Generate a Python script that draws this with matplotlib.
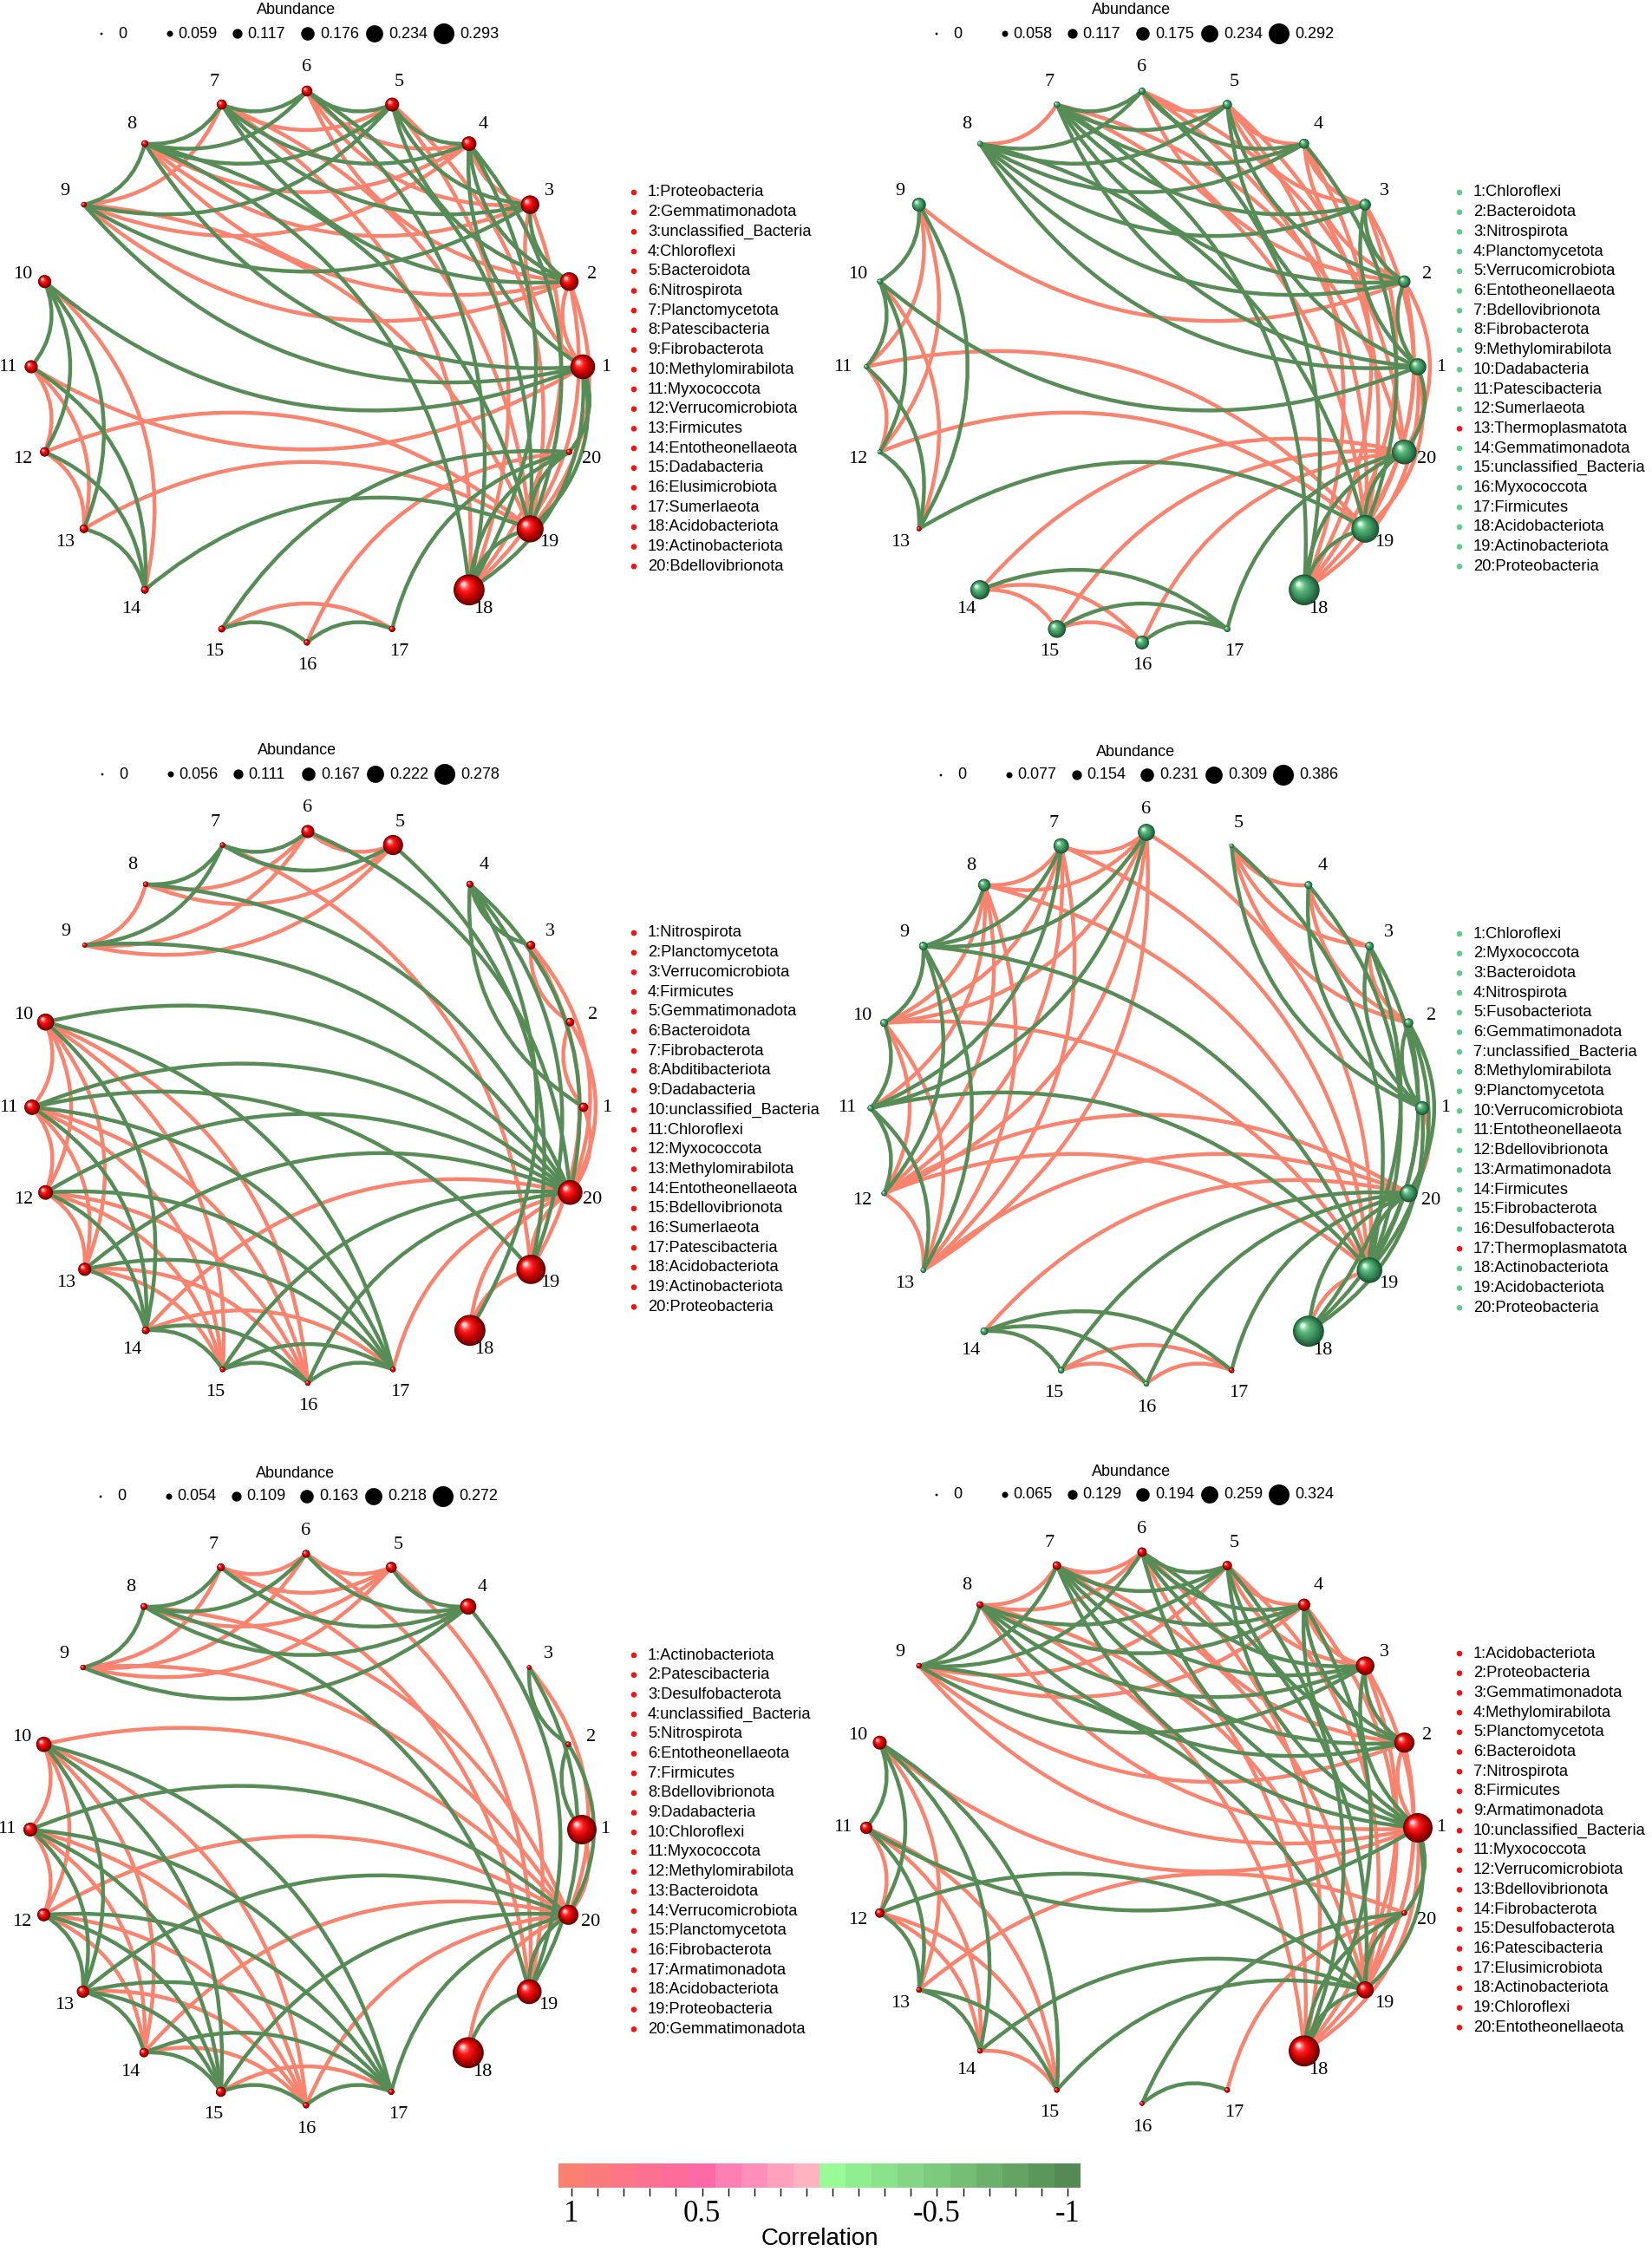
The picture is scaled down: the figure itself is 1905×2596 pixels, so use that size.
import numpy as np
import matplotlib
matplotlib.use("Agg")
import matplotlib.pyplot as plt
from matplotlib.patches import Circle, Rectangle, PathPatch
from matplotlib.path import Path
from matplotlib.colors import to_rgb

# ---------------------------------------------------------------- data
NAMES1 = ["Proteobacteria", "Gemmatimonadota", "unclassified_Bacteria", "Chloroflexi", "Bacteroidota",
          "Nitrospirota", "Planctomycetota", "Patescibacteria", "Fibrobacterota", "Methylomirabilota",
          "Myxococcota", "Verrucomicrobiota", "Firmicutes", "Entotheonellaeota", "Dadabacteria",
          "Elusimicrobiota", "Sumerlaeota", "Acidobacteriota", "Actinobacteriota", "Bdellovibrionota"]
NAMES2 = ["Chloroflexi", "Bacteroidota", "Nitrospirota", "Planctomycetota", "Verrucomicrobiota",
          "Entotheonellaeota", "Bdellovibrionota", "Fibrobacterota", "Methylomirabilota", "Dadabacteria",
          "Patescibacteria", "Sumerlaeota", "Thermoplasmatota", "Gemmatimonadota", "unclassified_Bacteria",
          "Myxococcota", "Firmicutes", "Acidobacteriota", "Actinobacteriota", "Proteobacteria"]
NAMES3 = ["Nitrospirota", "Planctomycetota", "Verrucomicrobiota", "Firmicutes", "Gemmatimonadota",
          "Bacteroidota", "Fibrobacterota", "Abditibacteriota", "Dadabacteria", "unclassified_Bacteria",
          "Chloroflexi", "Myxococcota", "Methylomirabilota", "Entotheonellaeota", "Bdellovibrionota",
          "Sumerlaeota", "Patescibacteria", "Acidobacteriota", "Actinobacteriota", "Proteobacteria"]
NAMES4 = ["Chloroflexi", "Myxococcota", "Bacteroidota", "Nitrospirota", "Fusobacteriota",
          "Gemmatimonadota", "unclassified_Bacteria", "Methylomirabilota", "Planctomycetota", "Verrucomicrobiota",
          "Entotheonellaeota", "Bdellovibrionota", "Armatimonadota", "Firmicutes", "Fibrobacterota",
          "Desulfobacterota", "Thermoplasmatota", "Actinobacteriota", "Acidobacteriota", "Proteobacteria"]
NAMES5 = ["Actinobacteriota", "Patescibacteria", "Desulfobacterota", "unclassified_Bacteria", "Nitrospirota",
          "Entotheonellaeota", "Firmicutes", "Bdellovibrionota", "Dadabacteria", "Chloroflexi",
          "Myxococcota", "Methylomirabilota", "Bacteroidota", "Verrucomicrobiota", "Planctomycetota",
          "Fibrobacterota", "Armatimonadota", "Acidobacteriota", "Proteobacteria", "Gemmatimonadota"]
NAMES6 = ["Acidobacteriota", "Proteobacteria", "Gemmatimonadota", "Methylomirabilota", "Planctomycetota",
          "Bacteroidota", "Nitrospirota", "Firmicutes", "Armatimonadota", "unclassified_Bacteria",
          "Myxococcota", "Verrucomicrobiota", "Bdellovibrionota", "Fibrobacterota", "Desulfobacterota",
          "Patescibacteria", "Elusimicrobiota", "Actinobacteriota", "Chloroflexi", "Entotheonellaeota"]

ABUND1 = [0.223, 0.155, 0.155, 0.113, 0.104, 0.071, 0.062, 0.028, 0.012, 0.096,
          0.096, 0.054, 0.046, 0.037, 0.028, 0.020, 0.020, 0.291, 0.248, 0.020]
ABUND2 = [0.138, 0.087, 0.079, 0.062, 0.054, 0.028, 0.020, 0.012, 0.104, 0.012,
          0.004, 0.004, 0.004, 0.163, 0.146, 0.104, 0.020, 0.288, 0.254, 0.222]
ABUND3 = [0.051, 0.043, 0.043, 0.027, 0.163, 0.091, 0.011, 0.011, 0.004, 0.131,
          0.115, 0.107, 0.091, 0.035, 0.011, 0.011, 0.011, 0.276, 0.259, 0.211]
ABUND4 = [0.138, 0.071, 0.060, 0.049, 0.004, 0.183, 0.160, 0.116, 0.060, 0.049,
          0.027, 0.016, 0.016, 0.049, 0.027, 0.016, 0.016, 0.384, 0.305, 0.193]
ABUND5 = [0.254, 0.011, 0.004, 0.121, 0.066, 0.035, 0.035, 0.026, 0.011, 0.112,
          0.097, 0.089, 0.081, 0.050, 0.058, 0.019, 0.019, 0.270, 0.207, 0.160]
ABUND6 = [0.303, 0.190, 0.171, 0.096, 0.061, 0.061, 0.050, 0.031, 0.013, 0.115,
          0.096, 0.061, 0.013, 0.013, 0.013, 0.004, 0.013, 0.322, 0.153, 0.013]

# node group colour: "r" = red, "g" = green
GROUP1 = ["r"] * 20
GROUP2 = ["g"] * 12 + ["r"] + ["g"] * 7
GROUP3 = ["r"] * 20
GROUP4 = ["g"] * 16 + ["r"] + ["g"] * 3
GROUP5 = ["r"] * 20
GROUP6 = ["r"] * 20

SIZE_TICKS1 = ["0", "0.059", "0.117", "0.176", "0.234", "0.293"]
SIZE_TICKS2 = ["0", "0.058", "0.117", "0.175", "0.234", "0.292"]
SIZE_TICKS3 = ["0", "0.056", "0.111", "0.167", "0.222", "0.278"]
SIZE_TICKS4 = ["0", "0.077", "0.154", "0.231", "0.309", "0.386"]
SIZE_TICKS5 = ["0", "0.054", "0.109", "0.163", "0.218", "0.272"]
SIZE_TICKS6 = ["0", "0.065", "0.129", "0.194", "0.259", "0.324"]

# positive (salmon) and negative (green) correlation edges
POS1 = [(1, 2), (3, 4), (11, 12), (12, 13), (15, 17), (11, 13), (5, 7), (4, 6), (1, 3), (7, 9),
        (10, 14), (1, 11), (12, 19), (13, 19), (16, 20), (4, 9), (2, 9), (9, 19), (4, 8), (3, 8),
        (2, 8), (7, 18), (7, 19), (3, 6), (2, 6), (5, 18), (5, 19), (3, 18), (2, 18), (2, 19)]
NEG1 = [(2, 3), (4, 5), (5, 6), (6, 7), (7, 8), (8, 9), (10, 11), (13, 14), (15, 16), (16, 17),
        (18, 19), (19, 20), (1, 20), (10, 12), (12, 14), (6, 8), (3, 5), (2, 4), (18, 20), (1, 19),
        (10, 13), (11, 14), (1, 10), (14, 19), (15, 20), (17, 20), (5, 9), (3, 9), (1, 9), (1, 8),
        (8, 19), (8, 18), (5, 8), (4, 7), (3, 7), (2, 7), (6, 18), (6, 19), (2, 5), (4, 18),
        (4, 19), (1, 4), (1, 18)]

POS2 = [(3, 4), (4, 5), (5, 6), (7, 8), (11, 12), (14, 15), (15, 16), (14, 16), (9, 11), (9, 12),
        (10, 13), (3, 5), (2, 4), (1, 19), (7, 19), (7, 20), (6, 19), (2, 6), (6, 20), (5, 19),
        (5, 18), (4, 18), (3, 18), (2, 18), (1, 18), (2, 9), (11, 19), (12, 19), (14, 20), (15, 20),
        (16, 20), (2, 20), (3, 19)]
NEG2 = [(1, 2), (2, 3), (6, 7), (9, 10), (10, 11), (12, 13), (16, 17), (18, 19), (19, 20), (1, 20),
        (15, 17), (14, 17), (10, 12), (11, 13), (9, 13), (5, 7), (6, 8), (1, 3), (4, 8), (3, 8),
        (2, 8), (1, 8), (5, 8), (8, 19), (4, 7), (3, 7), (2, 7), (1, 7), (7, 18), (4, 6),
        (6, 18), (2, 5), (1, 5), (4, 19), (1, 10), (13, 19), (17, 20), (18, 20)]

POS3 = [(5, 6), (8, 9), (10, 11), (11, 12), (12, 13), (1, 2), (2, 3), (19, 20), (18, 19), (18, 20),
        (1, 20), (6, 8), (5, 8), (5, 9), (6, 9), (7, 19), (3, 19), (3, 20), (2, 20), (10, 12),
        (10, 13), (10, 15), (10, 16), (11, 13), (11, 15), (11, 16), (12, 15), (12, 16), (13, 15),
        (13, 16), (14, 20), (17, 20), (14, 17)]
NEG3 = [(6, 7), (7, 8), (13, 14), (14, 15), (15, 16), (16, 17), (3, 4), (5, 7), (7, 9), (5, 19),
        (6, 20), (8, 20), (9, 20), (4, 18), (4, 19), (4, 20), (1, 4), (10, 20), (10, 14), (10, 17),
        (11, 20), (11, 19), (11, 14), (11, 17), (12, 20), (12, 14), (12, 17), (13, 20), (13, 17),
        (14, 16), (15, 17), (15, 20), (16, 20)]

POS4 = [(6, 7), (7, 8), (12, 13), (15, 16), (16, 17), (4, 5), (3, 4), (2, 3), (1, 20), (18, 19),
        (6, 8), (7, 10), (8, 10), (6, 10), (8, 11), (8, 12), (8, 13), (7, 12), (7, 13), (6, 12),
        (6, 13), (10, 12), (10, 13), (10, 19), (8, 19), (7, 19), (6, 19), (12, 19), (13, 20),
        (2, 5), (3, 5), (2, 4), (14, 20), (15, 17), (12, 20)]
NEG4 = [(8, 9), (9, 10), (10, 11), (11, 12), (14, 15), (1, 2), (19, 20), (18, 20), (7, 9), (6, 9),
        (7, 11), (6, 11), (9, 12), (9, 13), (11, 13), (9, 19), (11, 19), (5, 19), (1, 5), (1, 4),
        (1, 3), (3, 19), (2, 19), (14, 16), (14, 17), (15, 20), (16, 20), (17, 20), (1, 18),
        (2, 18), (3, 18), (4, 19), (2, 20)]

POS5 = [(5, 6), (6, 7), (10, 11), (11, 12), (1, 20), (5, 7), (7, 9), (5, 8), (5, 9), (6, 9),
        (8, 20), (7, 19), (6, 19), (5, 19), (3, 20), (9, 20), (10, 20), (10, 12), (10, 14), (10, 16),
        (11, 14), (11, 16), (12, 20), (12, 14), (12, 16), (13, 16), (14, 16), (14, 20), (16, 20),
        (15, 17), (18, 20)]
NEG5 = [(7, 8), (8, 9), (4, 5), (12, 13), (13, 14), (14, 15), (15, 16), (16, 17), (2, 3), (1, 2),
        (19, 20), (18, 19), (4, 6), (6, 8), (4, 7), (4, 8), (4, 9), (4, 19), (3, 19), (2, 20),
        (8, 19), (10, 13), (10, 15), (10, 17), (11, 20), (11, 13), (11, 15), (11, 17), (12, 15),
        (12, 17), (13, 20), (13, 15), (13, 17), (14, 17), (15, 20), (17, 20)]

POS6 = [(1, 2), (3, 4), (4, 5), (6, 7), (7, 8), (11, 12), (14, 15), (5, 9), (4, 9), (2, 9),
        (1, 9), (6, 8), (1, 8), (8, 19), (8, 18), (7, 18), (7, 19), (2, 6), (6, 18), (3, 5),
        (5, 19), (4, 19), (3, 18), (3, 19), (2, 18), (1, 18), (1, 10), (10, 13), (11, 14),
        (11, 15), (12, 14), (12, 15), (13, 20), (17, 20)]
NEG6 = [(2, 3), (5, 6), (8, 9), (10, 11), (12, 13), (13, 14), (16, 17), (18, 19), (19, 20), (1, 20),
        (7, 9), (6, 9), (3, 9), (9, 19), (5, 8), (4, 8), (3, 8), (2, 8), (5, 7), (4, 7),
        (3, 7), (2, 7), (1, 7), (4, 6), (3, 6), (1, 6), (6, 19), (2, 5), (1, 5), (5, 18),
        (2, 4), (1, 4), (4, 18), (1, 3), (1, 19), (10, 12), (10, 14), (10, 15), (1, 11), (11, 13),
        (12, 19), (13, 15), (14, 19), (15, 19), (16, 20), (18, 20)]

CBAR_VALUES = [1, 0.9, 0.8, 0.7, 0.6, 0.5, 0.4, 0.3, 0.2, 0.1,
               -0.1, -0.2, -0.3, -0.4, -0.5, -0.6, -0.7, -0.8, -0.9, -1]
CBAR_COLORS = ["#FA8072", "#FB7B7C", "#FC7686", "#FD7190", "#FE6C9B", "#FF69A6", "#FF7FB4", "#FF8FBA",
               "#FFA0BD", "#FFB3C1", "#98FB98", "#90EE90", "#8AE28A", "#84D684", "#7CCA7C", "#74BD74",
               "#6BB06B", "#63A363", "#5B975B", "#548B54"]
CBAR_TICKLABELS = {1: "1", 0.5: "0.5", -0.5: "-0.5", -1: "-1"}

PANELS = [
    (NAMES1, ABUND1, GROUP1, SIZE_TICKS1, POS1, NEG1),
    (NAMES2, ABUND2, GROUP2, SIZE_TICKS2, POS2, NEG2),
    (NAMES3, ABUND3, GROUP3, SIZE_TICKS3, POS3, NEG3),
    (NAMES4, ABUND4, GROUP4, SIZE_TICKS4, POS4, NEG4),
    (NAMES5, ABUND5, GROUP5, SIZE_TICKS5, POS5, NEG5),
    (NAMES6, ABUND6, GROUP6, SIZE_TICKS6, POS6, NEG6),
]

# ---------------------------------------------------------------- style / layout
W, H = 1905, 2596
CENTERS = [(354, 423), (1317, 423), (355, 1277), (1322, 1278), (353, 2110), (1317, 2108)]
LEGEND_DOT_X = [731, 1683]
RADIUS = 318
EDGE_POS_COL = "#F8836F"
EDGE_NEG_COL = "#578C57"
EDGE_LW = 3.2
CURV = 0.30
SERIF = ["Liberation Serif", "DejaVu Serif"]
SANS = ["Liberation Sans", "DejaVu Sans"]

RED_STOPS = [(0.0, "#6A0000"), (0.35, "#C40000"), (0.7, "#FF1A1A"), (0.9, "#FF7A7A"), (1.0, "#FFD6D6")]
GRN_STOPS = [(0.0, "#1D5534"), (0.35, "#398C5A"), (0.7, "#5AB67B"), (0.9, "#9CDCB0"), (1.0, "#E4F8EA")]
LEG_RED = "#F01414"
LEG_GRN = "#62CC8C"

fig = plt.figure(figsize=(W / 100, H / 100), dpi=100)
ax = fig.add_axes([0, 0, 1, 1])
ax.set_xlim(0, W)
ax.set_ylim(H, 0)
ax.axis("off")


def interp(stops, t):
    for (t0, c0), (t1, c1) in zip(stops[:-1], stops[1:]):
        if t <= t1:
            f = (t - t0) / (t1 - t0) if t1 > t0 else 0
            a, b = np.array(to_rgb(c0)), np.array(to_rgb(c1))
            return tuple(a + (b - a) * f)
    return to_rgb(stops[-1][1])


def sphere(x, y, r, group):
    stops = RED_STOPS if group == "r" else GRN_STOPS
    n = 16
    for i in range(n):
        t = i / (n - 1)
        rr = r * (1 - 0.86 * t)
        ax.add_patch(Circle((x - 0.36 * r * t, y - 0.36 * r * t), rr,
                            facecolor=interp(stops, t), edgecolor="none", zorder=5))


def node_math(k):
    a = np.deg2rad((k - 1) * 18.0)
    return np.array([np.cos(a), np.sin(a)]) * RADIUS


for idx, ((names, abund, group, sticks, pos, neg), (cx, cy)) in enumerate(zip(PANELS, CENTERS)):
    def scr(p):
        return (cx + p[0], cy - p[1])

    # edges
    for edges, col in ((pos, EDGE_POS_COL), (neg, EDGE_NEG_COL)):
        for i, j in edges:
            a, b = sorted((i, j))
            p0, p2 = node_math(a), node_math(b)
            v = p2 - p0
            c = (p0 + p2) / 2 + CURV * np.array([-v[1], v[0]])
            path = Path([scr(p0), scr(c), scr(p2)], [Path.MOVETO, Path.CURVE3, Path.CURVE3])
            ax.add_patch(PathPatch(path, facecolor="none", edgecolor=col, lw=EDGE_LW,
                                   capstyle="round", zorder=2))

    amax = float(sticks[-1])
    for k in range(1, 21):
        p = node_math(k)
        x, y = scr(p)
        r = 2.5 + 15.5 * min(abund[k - 1] / amax, 1.0)
        sphere(x, y, r, group[k - 1])
        u = p / RADIUS
        ax.text(cx + u[0] * (RADIUS + 27), cy - u[1] * (RADIUS + 27), str(k),
                ha="center", va="center", fontsize=16, family=SERIF, zorder=6)

    # right legend
    dx_leg = LEGEND_DOT_X[idx % 2]
    y0 = cy - 201
    for k, nm in enumerate(names):
        yy = y0 + k * 22.7
        ax.add_patch(Circle((dx_leg, yy), 3.3, facecolor=LEG_RED if group[k] == "r" else LEG_GRN,
                            edgecolor="none", zorder=5))
        ax.text(dx_leg + 16, yy, f"{k + 1}:{nm}", ha="left", va="center", fontsize=13.2,
                family=SANS, zorder=6)

    # size legend
    ry = cy - 384
    ax.text(cx - 12, ry - 27, "Abundance", ha="center", va="center", fontsize=13, family=SANS)
    offs = [-237, -158, -80, 1, 78, 158]
    for m, (dx, lab) in enumerate(zip(offs, sticks)):
        rr = 1.4 + 10.6 * m / 5
        ax.add_patch(Circle((cx + dx, ry), rr, facecolor="black", edgecolor="none"))
        tx = cx + dx + (19 if m == 0 else rr + 6)
        ax.text(tx, ry, lab, ha="left", va="center", fontsize=13, family=SANS)

# colour bar
x0, x1 = 644, 1246
top, hgt = 2495, 28
cw = (x1 - x0) / len(CBAR_VALUES)
for n, (val, col) in enumerate(zip(CBAR_VALUES, CBAR_COLORS)):
    ax.add_patch(Rectangle((x0 + n * cw, top), cw, hgt, facecolor=col, edgecolor="none"))
    xc = x0 + (n + 0.5) * cw
    ax.plot([xc, xc], [top + hgt + 1, top + hgt + 9], color="black", lw=1.0)
    if val in CBAR_TICKLABELS:
        ax.text(xc, top + hgt + 31, CBAR_TICKLABELS[val], ha="center", va="center",
                fontsize=25, family=SERIF)
ax.text((x0 + x1) / 2, 2582, "Correlation", ha="center", va="center",
        fontsize=20, family=SANS)

fig.savefig("out.png", dpi=100)
